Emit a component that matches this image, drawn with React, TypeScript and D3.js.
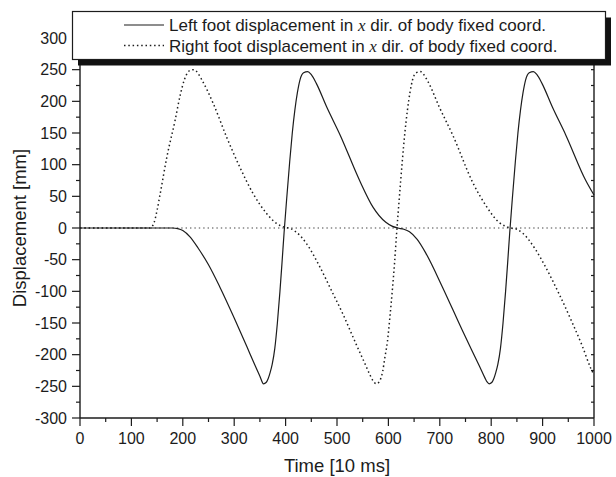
import React from "react";
import * as d3 from "d3";

// ---- data ----
const timeTicks = [0, 100, 200, 300, 400, 500, 600, 700, 800, 900, 1000];
const dispTicks = [-300, -250, -200, -150, -100, -50, 0, 50, 100, 150, 200, 250, 300];

const leftFootT = [0, 180, 190, 200, 214, 230, 250, 272, 300, 325, 340, 350, 357, 362, 366, 370, 374, 379, 384, 389, 393, 397, 402, 408, 413, 418, 423, 428, 435, 443, 450, 460, 480, 506, 544, 570, 595, 607, 618, 630, 641, 656, 673, 705, 744, 777, 788, 792, 796, 801, 805, 809, 813, 818, 823, 828, 832, 836, 841, 847, 852, 857, 862, 867, 874, 882, 889, 899, 919, 945, 984, 1000];
const leftFootV = [0, 0, -1, -4, -14, -32, -58, -93, -142, -188, -216, -234, -246, -244, -238, -228, -215, -190, -150, -100, -55, -8, 45, 105, 150, 186, 214, 234, 245, 247, 242, 228, 191, 147, 75, 33, 9, 3, 0, -2, -6, -18, -40, -93, -162, -218, -237, -243, -246, -244, -238, -228, -215, -190, -150, -100, -55, -8, 45, 105, 150, 186, 214, 234, 245, 247, 242, 228, 191, 147, 75, 52];

const rightFootT = [0, 136, 140, 144, 150, 156, 169, 185, 195, 203, 209, 215, 221, 227, 237, 259, 285, 311, 337, 363, 378, 389, 400, 410, 420, 441, 467, 490, 511, 537, 552, 563, 570, 576, 581, 585, 589, 593, 598, 603, 608, 612, 616, 621, 627, 632, 637, 642, 647, 654, 662, 669, 679, 699, 725, 764, 790, 815, 827, 838, 850, 861, 887, 906, 932, 958, 977, 994, 1000];
const rightFootV = [0, 0, 2, 8, 28, 54, 112, 170, 210, 234, 245, 249, 250, 247, 234, 197, 144, 96, 54, 23, 10, 4, 1, -1, -6, -25, -62, -100, -135, -183, -210, -230, -241, -246, -244, -238, -226, -205, -180, -140, -95, -55, -8, 45, 105, 150, 186, 214, 234, 245, 247, 242, 228, 191, 147, 72, 35, 9, 3, 0, -2, -8, -35, -62, -104, -150, -186, -222, -232];

const legendLabels = ["Left foot displacement in ", "Right foot displacement in "];
const legendSuffix = " dir. of body fixed coord.";
const xTitle = "Time [10 ms]";
const yTitle = "Displacement [mm]";

const W = 616;
const H = 477;
const FONT = "'Liberation Sans', Arial, Helvetica, sans-serif";
const SERIF = "'Liberation Serif', 'Times New Roman', serif";
const INK = "#1c1c1c";

export default function App() {
  const x = d3.scaleLinear().domain([0, 1000]).range([80, 594]);
  const y = d3.scaleLinear().domain([-300, 300]).range([418, 38]);

  const line = d3
    .line<[number, number]>()
    .x((d) => x(d[0]))
    .y((d) => y(d[1]))
    .curve(d3.curveMonotoneX);

  const leftPts = leftFootT.map((t, i) => [t, leftFootV[i]] as [number, number]);
  const rightPts = rightFootT.map((t, i) => [t, rightFootV[i]] as [number, number]);

  const x0 = x(0), x1 = x(1000), yb = y(-300), yt = y(300);

  const minorY: number[] = [];
  for (let i = 0; i < dispTicks.length - 1; i++) minorY.push((dispTicks[i] + dispTicks[i + 1]) / 2);
  const minorX: number[] = [];
  for (let i = 0; i < timeTicks.length - 1; i++) minorX.push((timeTicks[i] + timeTicks[i + 1]) / 2);
  const rightTicks = [...dispTicks, ...minorY].filter((v) => v > -300 && v < 300);

  return (
    <svg width={W} height={H} style={{ position: "absolute", left: 0, top: 0, background: "#fff" }} fontFamily={FONT}>
      <rect x={0} y={0} width={W} height={H} fill="#fff" />
      {/* zero reference line */}
      <line x1={x0} x2={x1} y1={y(0)} y2={y(0)} stroke="#444" strokeWidth={1.2} strokeDasharray="1.4 3" />

      {/* curves */}
      <path d={line(rightPts) || ""} fill="none" stroke={INK} strokeWidth={1.5} strokeDasharray="1.5 2.8" />
      <path d={line(leftPts) || ""} fill="none" stroke={INK} strokeWidth={1.2} />

      {/* frame */}
      <g stroke={INK} strokeWidth={1.4} fill="none">
        <line x1={x0} x2={x0} y1={yt} y2={yb} />
        <line x1={x1} x2={x1} y1={yt} y2={yb} />
        <line x1={x0} x2={x1} y1={yb} y2={yb} />
        <line x1={x0} x2={x1} y1={yt} y2={yt} />
      </g>

      {/* axis ticks */}
      <g stroke={INK} strokeWidth={1.2}>
        {dispTicks.map((v) => (
          <line key={"ly" + v} x1={x0 - 8} x2={x0} y1={y(v)} y2={y(v)} />
        ))}
        {minorY.map((v) => (
          <line key={"lm" + v} x1={x0 - 4} x2={x0} y1={y(v)} y2={y(v)} />
        ))}
        {timeTicks.map((t) => (
          <line key={"bx" + t} x1={x(t)} x2={x(t)} y1={yb} y2={yb + 8} />
        ))}
        {minorX.map((t) => (
          <line key={"bm" + t} x1={x(t)} x2={x(t)} y1={yb} y2={yb + 4} />
        ))}
        {rightTicks.map((v) => (
          <line key={"ry" + v} x1={x1 - 3} x2={x1} y1={y(v)} y2={y(v)} />
        ))}
      </g>

      {/* tick labels */}
      <g fontSize={16} fill={INK}>
        {dispTicks.map((v) => (
          <text key={"yl" + v} x={67} y={y(v) + 5.7} textAnchor="end">
            {v}
          </text>
        ))}
        {timeTicks.map((t) => (
          <text key={"xl" + t} x={x(t)} y={444} textAnchor="middle">
            {t}
          </text>
        ))}
      </g>

      {/* axis titles */}
      <text x={(x0 + x1) / 2} y={472} textAnchor="middle" fontSize={18.5} fill={INK}>
        {xTitle}
      </text>
      <text transform={`translate(25.5, ${(yt + yb) / 2}) rotate(-90)`} textAnchor="middle" fontSize={18.5} fill={INK}>
        {yTitle}
      </text>

      {/* legend */}
      <rect x={78} y={17.5} width={533} height={48} fill="#111" />
      <rect x={72.5} y={11.5} width={533} height={48} fill="#fff" stroke={INK} strokeWidth={1.2} />
      <line x1={124} x2={164} y1={25} y2={25} stroke={INK} strokeWidth={1.2} />
      <line x1={124} x2={164} y1={45.5} y2={45.5} stroke={INK} strokeWidth={1.5} strokeDasharray="1.5 2.8" />
      {legendLabels.map((lab, i) => (
        <text key={"lg" + i} x={169} y={31 + i * 20.6} fontSize={17} fill={INK}>
          {lab}
          <tspan fontFamily={SERIF} fontStyle="italic">x</tspan>
          {legendSuffix}
        </text>
      ))}
    </svg>
  );
}
